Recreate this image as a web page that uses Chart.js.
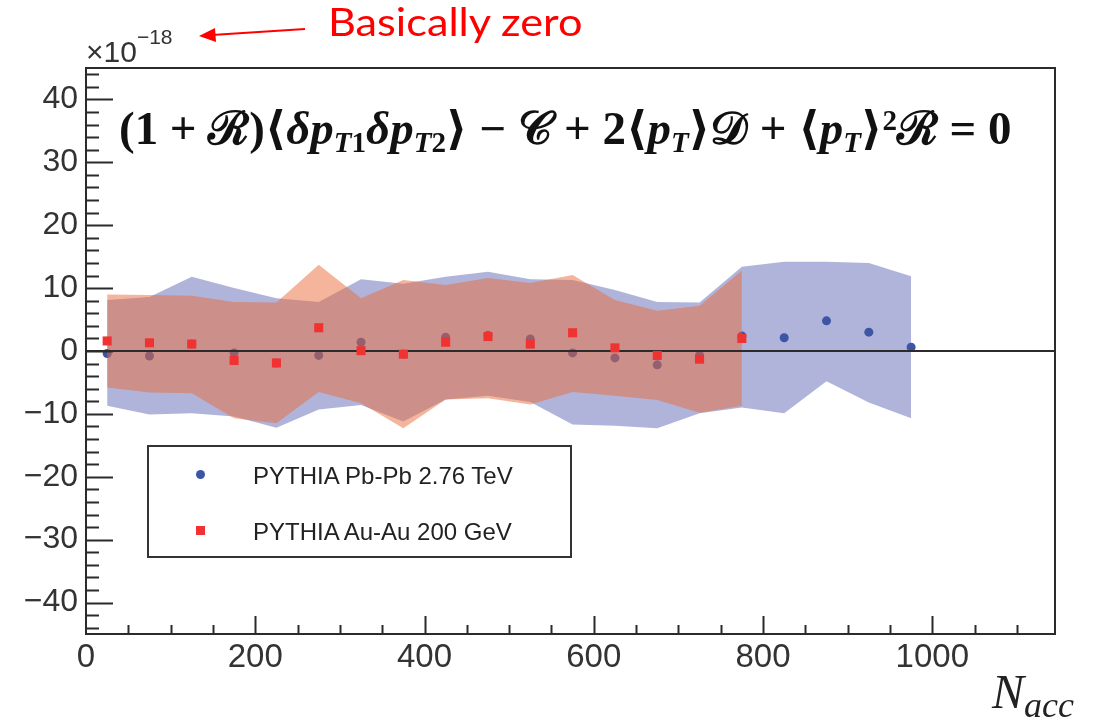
<!DOCTYPE html>
<html>
<head>
<meta charset="utf-8">
<script src="https://cdn.jsdelivr.net/npm/chart.js@4.4.1/dist/chart.umd.min.js"></script>
<style>
  html, body { margin: 0; padding: 0; background: #fff; }
  #wrap { position: relative; width: 1102px; height: 722px; overflow: hidden; }
  #plot { position: absolute; left: 0; top: 0; }
  .txt { position: absolute; white-space: nowrap; line-height: 1; }
  #note { left: 328px; top: 2px; font-family: Lato, "Open Sans", sans-serif; font-size: 39px; color: #ff0000; transform-origin: 0 0; }
  #expo { left: 86px; top: 37px; font-family: "Liberation Sans", Arial, sans-serif; font-size: 30px; color: #333; }
  #expo .up { font-size: 21px; position: relative; top: -18px; }
  #formula { left: 119px; top: 106px; font-family: "Liberation Serif", "DejaVu Serif", serif; font-weight: bold; font-size: 46px; color: #111; transform-origin: 0 0; }
  #formula .sb { font-size: 0.62em; position: relative; top: 0.28em; }
  #formula .sp { font-size: 0.62em; position: relative; top: -0.5em; }
  #xtitle { left: 992px; top: 668px; font-family: "Liberation Serif", serif; font-style: italic; font-size: 48px; color: #222; }
  #xtitle .sb { font-size: 36px; position: relative; top: 9px; }
  #legend { position: absolute; left: 147px; top: 445px; width: 421px; height: 109px; border: 2px solid #333; }
  .lg-mark { position: absolute; width: 9px; height: 9px; }
  .lg-text { position: absolute; left: 104px; white-space: nowrap; line-height: 1; font-family: "Liberation Sans", Arial, sans-serif; font-size: 24px; color: #222; }
</style>
</head>
<body>
<div id="wrap">
  <canvas id="plot" width="1102" height="722"></canvas>
  <div class="txt" id="note">Basically zero</div>
  <svg style="position:absolute;left:0;top:0" width="400" height="60">
    <line x1="305" y1="29" x2="212" y2="35" stroke="#ff0000" stroke-width="2.2"/>
    <polygon points="199,36 215,28 216,42" fill="#ff0000"/>
  </svg>
  <div class="txt" id="expo">×10<span class="up">−18</span></div>
  <div class="txt" id="formula">(1 + ℛ)⟨<i>δp</i><span class="sb"><i>T</i>1</span><i>δp</i><span class="sb"><i>T</i>2</span>⟩ − 𝒞 + 2⟨<i>p</i><span class="sb"><i>T</i></span>⟩𝒟 + ⟨<i>p</i><span class="sb"><i>T</i></span>⟩<span class="sp">2</span>ℛ = 0</div>
  <div class="txt" id="xtitle">N<span class="sb">acc</span></div>
  <div id="legend"></div>
</div>
<script>
// bin centres (N_acc)
const nacc = [25, 75, 125, 175, 225, 275, 325, 375, 425, 475, 525, 575, 625, 675, 725, 775, 825, 875, 925, 975];

// PYTHIA Pb-Pb 2.76 TeV (units of 1e-18)
const pbpbLabel = 'PYTHIA Pb-Pb 2.76 TeV';
const pbpbMean = [-0.4, -0.8, 1.1, -0.3, -1.9, -0.7, 1.4, -0.5, 2.2, 2.5, 1.9, -0.3, -1.1, -2.2, -0.7, 2.4, 2.1, 4.8, 3.0, 0.6];
const pbpbHigh = [8.1, 8.6, 11.8, 10.0, 8.4, 7.8, 11.4, 10.7, 11.8, 12.6, 11.4, 11.3, 9.7, 7.8, 7.7, 13.4, 14.2, 14.2, 14.0, 11.9];
const pbpbLow = [-8.7, -10.1, -9.9, -10.4, -12.2, -9.3, -8.6, -11.2, -7.7, -7.1, -8.1, -11.7, -11.9, -12.3, -9.9, -9.0, -9.9, -4.8, -8.2, -10.7];

// PYTHIA Au-Au 200 GeV
const auauLabel = 'PYTHIA Au-Au 200 GeV';
const auauMean = [1.6, 1.3, 1.1, -1.5, -1.9, 3.7, 0.05, -0.5, 1.4, 2.3, 1.1, 2.9, 0.5, -0.7, -1.3, 2.0];
const auauHigh = [9.0, 8.9, 8.8, 7.8, 7.7, 13.7, 8.4, 11.3, 10.5, 11.6, 10.8, 12.1, 8.1, 6.4, 7.2, 12.8];
const auauLow = [-5.8, -6.6, -6.7, -10.7, -11.5, -6.5, -8.3, -12.3, -7.7, -7.5, -8.5, -6.5, -7.1, -7.8, -9.8, -8.7];

const xTickLabels = [0, 200, 400, 600, 800, 1000];
const yTickLabels = [-40, -30, -20, -10, 0, 10, 20, 30, 40];

const blueBand = 'rgba(97, 105, 181, 0.5)';
const orangeBand = 'rgba(235, 107, 57, 0.5)';
const blueMark = '#3d55a5';
const redMark = '#f03232';
const frameColor = '#2b2b2b';
const sans = '"Liberation Sans", Arial, sans-serif';

function pts(xs, ys) {
    return ys.map((y, i) => ({ x: xs[i], y: y }));
}

function band(ys, fill, color, order) {
    return {
        data: pts(nacc, ys),
        borderWidth: 0,
        borderColor: 'transparent',
        backgroundColor: color,
        pointRadius: 0,
        fill: fill,
        tension: 0,
        order: order
    };
}

// ROOT-like frame, inward ticks and the zero line
const rootFrame = {
    id: 'rootFrame',
    afterDatasetDraw(chart, args) {
        if (args.index !== 3) return;
        const ctx = chart.ctx, a = chart.chartArea;
        const y0 = chart.scales.y.getPixelForValue(0);
        ctx.save();
        ctx.strokeStyle = frameColor;
        ctx.lineWidth = 2;
        ctx.beginPath();
        ctx.moveTo(a.left, y0);
        ctx.lineTo(a.right, y0);
        ctx.stroke();
        ctx.restore();
    },
    afterDraw(chart) {
        const ctx = chart.ctx, a = chart.chartArea;
        const xs = chart.scales.x, ys = chart.scales.y;
        ctx.save();
        ctx.strokeStyle = frameColor;
        ctx.lineWidth = 2;
        ctx.strokeRect(a.left, a.top, a.right - a.left, a.bottom - a.top);
        ctx.beginPath();
        for (let v = -44; v <= 44; v += 2) {
            const py = Math.round(ys.getPixelForValue(v)) + 0.5;
            const len = v % 10 === 0 ? 27 : 13;
            ctx.moveTo(a.left, py);
            ctx.lineTo(a.left + len, py);
        }
        for (let v = 50; v <= xs.max; v += 50) {
            const px = Math.round(xs.getPixelForValue(v)) + 0.5;
            const len = v % 200 === 0 ? 18 : 9;
            ctx.moveTo(px, a.bottom);
            ctx.lineTo(px, a.bottom - len);
        }
        ctx.stroke();
        ctx.restore();
    }
};

const ctx = document.getElementById('plot').getContext('2d');
new Chart(ctx, {
    type: 'line',
    data: {
        datasets: [
            band(pbpbHigh, '+1', blueBand, 5),
            band(pbpbLow, false, blueBand, 5),
            {
                label: pbpbLabel,
                data: pts(nacc, pbpbMean),
                showLine: false,
                pointStyle: 'circle',
                pointRadius: 4.5,
                pointBorderWidth: 0,
                pointBackgroundColor: blueMark,
                order: 4
            },
            band(auauHigh, '+1', orangeBand, 3),
            band(auauLow, false, orangeBand, 3),
            {
                label: auauLabel,
                data: pts(nacc, auauMean),
                showLine: false,
                pointStyle: 'rect',
                pointRadius: 6.4,
                pointBorderWidth: 0,
                pointBackgroundColor: redMark,
                order: 1
            }
        ]
    },
    options: {
        responsive: false,
        animation: false,
        events: [],
        layout: { padding: { top: 68, right: 47, left: 0, bottom: 0 } },
        plugins: {
            legend: { display: false },
            tooltip: { enabled: false },
            filler: { drawTime: 'beforeDatasetDraw' }
        },
        scales: {
            x: {
                type: 'linear',
                min: 0,
                max: 1145,
                border: { display: false },
                grid: { display: false, drawTicks: false },
                ticks: {
                    padding: 4, color: '#333', maxRotation: 0, autoSkip: false, font: { family: sans, size: 33 },
                    callback: v => String(v)
                },
                afterBuildTicks: s => { s.ticks = xTickLabels.map(v => ({ value: v })); },
                afterFit: s => { s.height = 88; }
            },
            y: {
                type: 'linear',
                min: -45,
                max: 45,
                border: { display: false },
                grid: { display: false, drawTicks: false },
                ticks: {
                    padding: 8, color: '#333', autoSkip: false, font: { family: sans, size: 32 },
                    callback: v => String(v).replace('-', '\u2212')
                },
                afterBuildTicks: s => { s.ticks = yTickLabels.map(v => ({ value: v })); },
                afterFit: s => { s.width = 86; }
            }
        }
    },
    plugins: [rootFrame]
});

// legend box
const legend = document.getElementById('legend');
[[pbpbLabel, blueMark, '50%', 27], [auauLabel, redMark, '0', 83]].forEach(([label, color, radius, y]) => {
    const m = document.createElement('div');
    m.className = 'lg-mark';
    m.style.left = '46.5px';
    m.style.top = (y - 4.5) + 'px';
    m.style.background = color;
    m.style.borderRadius = radius;
    legend.appendChild(m);
    const t = document.createElement('div');
    t.className = 'lg-text';
    t.style.top = (y - 10) + 'px';
    t.textContent = label;
    legend.appendChild(t);
});

// stretch the annotation texts to the widths they take in the figure
function fitWidth(id, w) {
    const el = document.getElementById(id);
    el.style.transform = 'scaleX(' + (w / el.offsetWidth) + ')';
}
fitWidth('formula', 892);
fitWidth('note', 254);
</script>
</body>
</html>
